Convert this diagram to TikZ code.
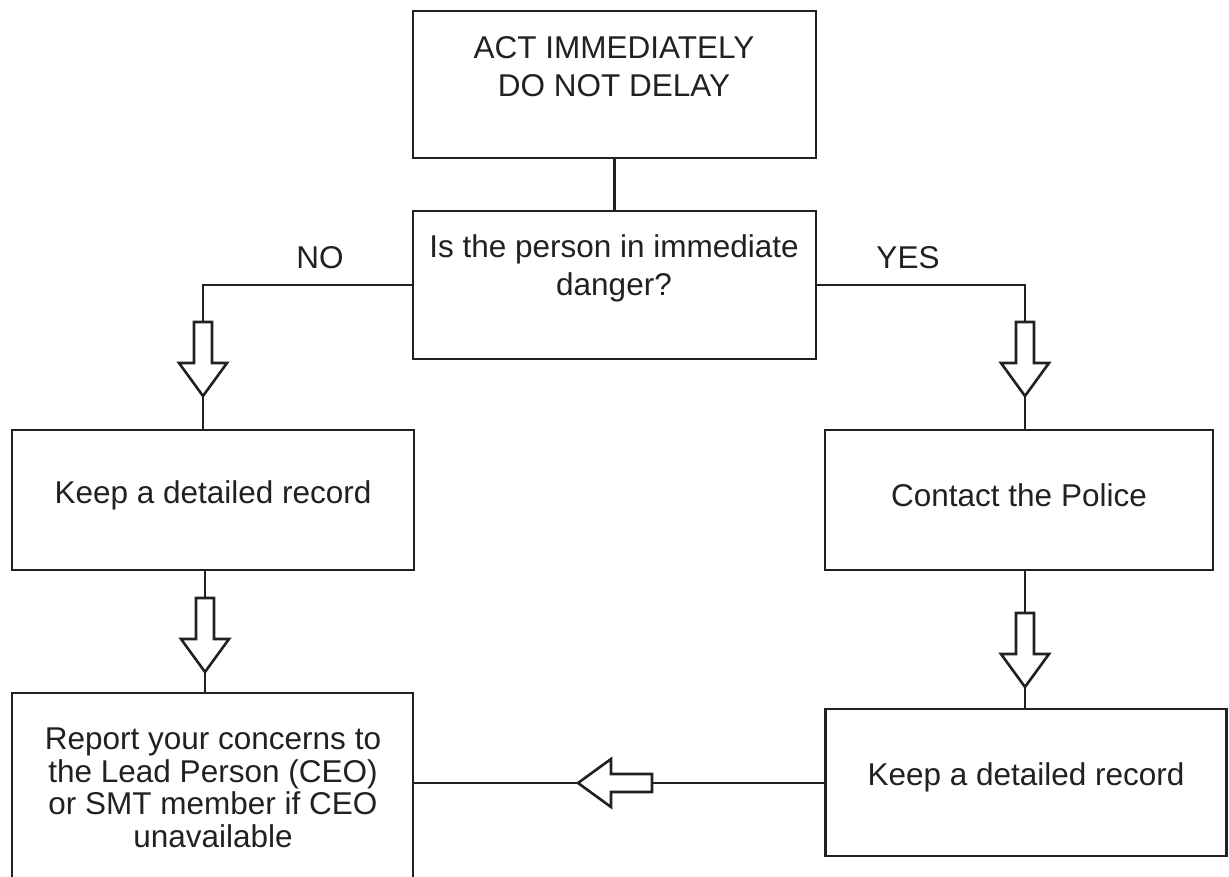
\documentclass[tikz,border=0pt]{standalone}
\usepackage{fontspec}
\setmainfont{Liberation Sans}
\definecolor{ink}{gray}{0.13}
\begin{document}
\begin{tikzpicture}[x=1pt,y=-1pt,
  box/.style={draw=ink, line width=2.6pt, rectangle, inner sep=0pt},
  txt/.style={text=ink, align=center, font=\fontsize{31.5}{38}\selectfont, inner sep=0pt},
  link/.style={draw=ink, line width=2.6pt},
  blkarrow/.pic={\draw[draw=ink, line width=2.6pt, line join=miter, fill=white]
     (-9,-74) -- (-9,-33) -- (-24,-33) -- (0,0) -- (24,-33) -- (9,-33) -- (9,-74) -- cycle;}
]
\useasboundingbox (0,0) rectangle (1229,877);

% boxes
\node[box, minimum width=403pt, minimum height=147pt] (top) at (614.5,84.5) {};
\node[txt] (toptxt) at (614,66.5) {ACT IMMEDIATELY\\DO NOT DELAY};

\node[box, minimum width=403pt, minimum height=148pt] (q) at (614.5,285) {};
\node[txt] (qtxt) at (614,268.5) {Is the person in immediate\\danger?};

\node[box, minimum width=402pt, minimum height=140pt] (keep) at (213,500) {};
\node[txt] (keeptxt) at (213,495) {Keep a detailed record};

\node[box, minimum width=388pt, minimum height=140pt] (police) at (1019,500) {};
\node[txt] (policetxt) at (1019,495) {Contact the Police};

\node[box, minimum width=401pt, minimum height=212pt] (report) at (212.5,799) {};
\node[txt, font=\fontsize{31.5}{32.5}\selectfont] (reporttxt) at (213,788)
  {Report your concerns to\\the Lead Person (CEO)\\or SMT member if CEO\\unavailable};

\node[box, minimum width=401pt, minimum height=147pt] (keep2) at (1026,782.5) {};
\node[txt] (keep2txt) at (1026,777) {Keep a detailed record};

% labels
\node[txt] (no) at (320,258) {NO};
\node[txt] (yes) at (908,258) {YES};

% arrow coordinates
\coordinate (a1h) at (203,396);  \coordinate (a1t) at (203,322);
\coordinate (a2h) at (1025,396); \coordinate (a2t) at (1025,322);
\coordinate (a3h) at (205,672);  \coordinate (a3t) at (205,598);
\coordinate (a4h) at (1025,687); \coordinate (a4t) at (1025,613);
\coordinate (a5h) at (578,783);  \coordinate (a5t) at (652,783);

% connectors
\draw[link] (top.south) -- (q.north);
\draw[link] (q.west) -| (a1t);
\draw[link] (a1h) -- (a1h |- keep.north);
\draw[link] (q.east) -| (a2t);
\draw[link] (a2h) -- (a2h |- police.north);
\draw[link] (a3t |- keep.south) -- (a3t);
\draw[link] (a3h) -- (a3h |- report.north);
\draw[link] (a4t |- police.south) -- (a4t);
\draw[link] (a4h) -- (a4h |- keep2.north);
\draw[link] (keep2.west |- a5t) -- (a5t);
\draw[link] (a5h) -- (a5h -| report.east);

% block arrows
\pic at (a1h) {blkarrow};
\pic at (a2h) {blkarrow};
\pic at (a3h) {blkarrow};
\pic at (a4h) {blkarrow};
\pic[rotate=-90] at (a5h) {blkarrow};
\end{tikzpicture}
\end{document}
